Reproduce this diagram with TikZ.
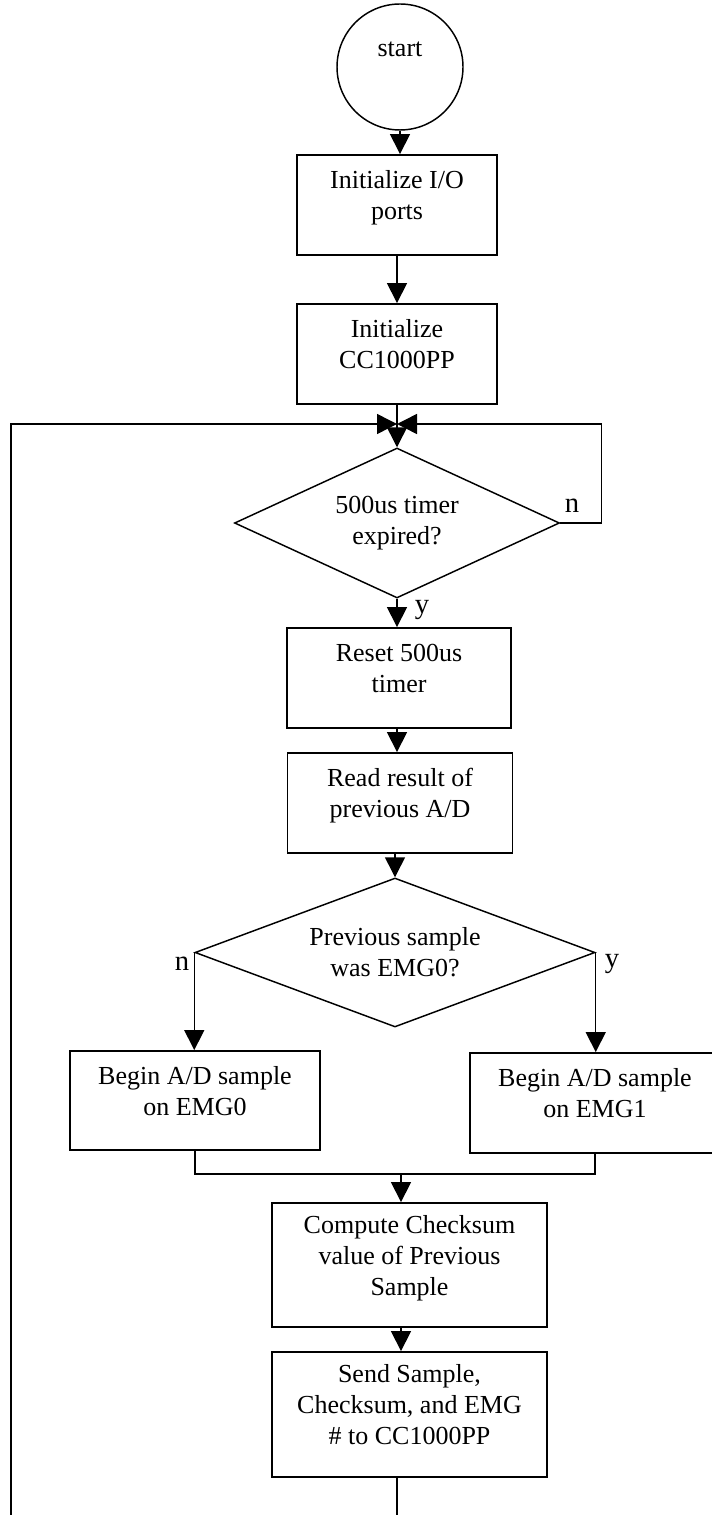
\documentclass[tikz,border=0pt]{standalone}
\usepackage{fontspec}
\setmainfont{Liberation Serif}
\usetikzlibrary{arrows.meta,shapes.geometric}
% multi-line box text, set slightly above the box centre
\newcommand\boxtext[1]{\raisebox{0pt}[0pt][0pt]{\begin{tabular}{@{}c@{}}#1\end{tabular}}}
\begin{document}
\begin{tikzpicture}[x=0.75pt,y=-0.75pt,
  every node/.style={font=\fontsize{19.5}{23.25}\selectfont},
  startnode/.style={draw, circle, line width=1.1pt, minimum size=94.5pt, inner sep=0pt},
  stepbox/.style={draw, rectangle, line width=1.4pt, inner sep=0pt},
  decision/.style={draw, diamond, line width=1.1pt, inner sep=0pt, align=center},
  lbl/.style={inner sep=0pt, anchor=base, font=\fontsize{21.5}{25}\selectfont},
  flow/.style={line width=1.1pt, -{Triangle[length=15pt,width=15pt]}},
  plain/.style={line width=1.1pt}]
\useasboundingbox (0,0) rectangle (712,1515);
\clip (0,0) rectangle (712,1515);

% nodes
\node[startnode] (start) at (400,67) {\raisebox{8pt}[0pt][0pt]{start}};
\node[stepbox, minimum width=150pt, minimum height=75pt] (init1) at (397,205) {\boxtext{Initialize I/O\\ports}};
\node[stepbox, minimum width=150pt, minimum height=75pt] (init2) at (397,354) {\boxtext{Initialize\\CC1000PP}};
\node[decision, shape aspect=2.17, minimum width=243.75pt, minimum height=112.5pt] (timer) at (397,523) {500us timer\\expired?};
\node[stepbox, minimum width=168pt, minimum height=75pt] (reset) at (399,678) {\boxtext{Reset 500us\\timer}};
\node[stepbox, minimum width=168.75pt, minimum height=75pt] (read) at (400,803) {\boxtext{Read result of\\previous A/D}};
\node[decision, shape aspect=2.68, minimum width=300pt, minimum height=111.75pt] (prev) at (395,952.5) {Previous sample\\was EMG0?};
\node[stepbox, minimum width=187.5pt, minimum height=74.25pt] (emg0) at (195,1100.5) {\boxtext{Begin A/D sample\\on EMG0}};
\node[stepbox, minimum width=187.5pt, minimum height=75pt] (emg1) at (595,1103) {\boxtext{Begin A/D sample\\on EMG1}};
\node[stepbox, minimum width=206.25pt, minimum height=93pt] (chk) at (409.5,1265) {\boxtext{Compute Checksum\\value of Previous\\Sample}};
\node[stepbox, minimum width=206.25pt, minimum height=93.75pt] (send) at (409.5,1414.5) {\boxtext{Send Sample,\\Checksum, and EMG\\\# to CC1000PP}};

% junction points and open ends
\coordinate (join) at (397,424);
\coordinate (merge) at (401,1174);
\coordinate (loopend) at (11,1515);
\coordinate (out) at (397,1515);

% connectors
\draw[flow] (start.south) -- (start.south |- init1.north);
\draw[flow] (init1.south) -- (init2.north);
\draw[flow] (init2.south) -- (timer.north);
\draw[flow] (timer.east) -- ++(41,0) |- (join);
\draw[flow] (loopend) |- (join);
\draw[flow] (timer.south) -- (timer.south |- reset.north);
\draw[flow] (reset.south -| timer.south) -- (read.north -| timer.south);
\draw[flow] (read.south -| prev.north) -- (prev.north);
\draw[flow] (prev.west) -- (prev.west |- emg0.north);
\draw[flow] (prev.east) -- (prev.east |- emg1.north);
\draw[plain] (emg0.south) |- (merge) -| (emg1.south);
\draw[flow] (merge) -- (merge |- chk.north);
\draw[flow] (chk.south -| merge) -- (send.north -| merge);
\draw[plain] (send.south -| out) -- (out);

% branch labels
\node[lbl] (n1) at (572,512) {n};
\node[lbl] (y1) at (422,613) {y};
\node[lbl] (n2) at (182,970) {n};
\node[lbl] (y2) at (612,967) {y};
\end{tikzpicture}
\end{document}
